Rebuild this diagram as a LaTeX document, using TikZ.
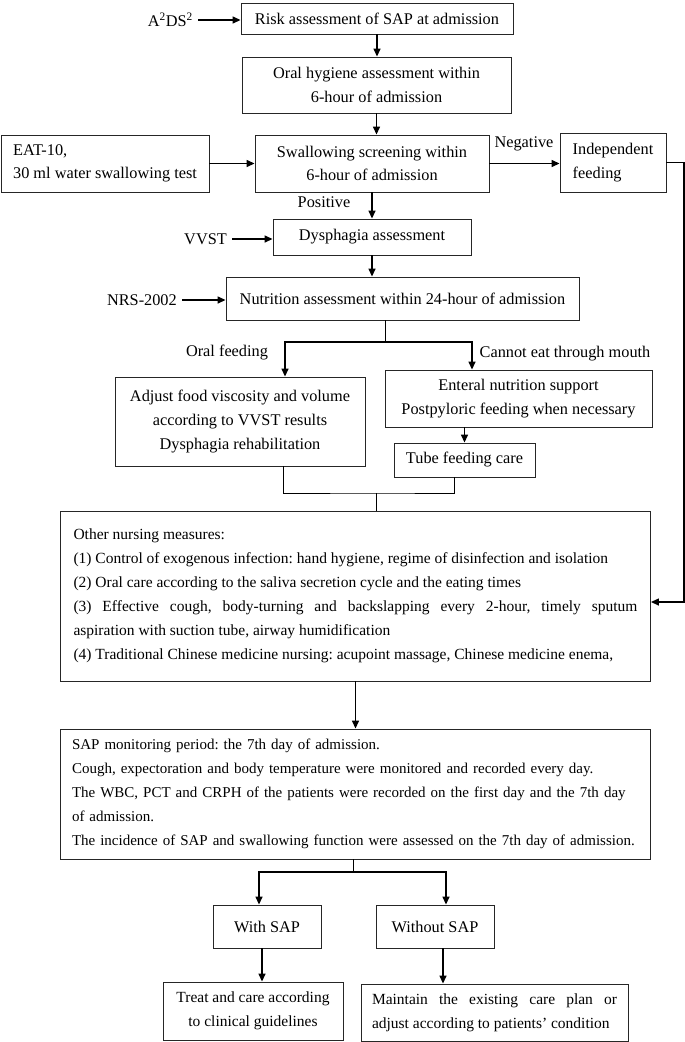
\documentclass[tikz,border=0pt]{standalone}
\usepackage{fontspec}
\setmainfont{Liberation Serif}
\usetikzlibrary{arrows.meta}
\hyphenpenalty=10000
\frenchspacing

\begin{document}
\begin{tikzpicture}[x=1pt,y=-1pt,
	font=\fontsize{16.3}{23.5}\selectfont,
	box/.style={draw=black!85,line width=0.9pt,inner sep=0pt,align=center},
	small/.style={font=\fontsize{15.5}{24}\selectfont},
	lbl/.style={inner sep=5pt},
	arr/.style={line width=1.4pt,-{Triangle[length=8pt,width=7pt]}},
	lne/.style={line width=0.9pt}]
	
	\useasboundingbox (0,0) rectangle (685,1042);
	
	% upper part
	\node[box,minimum width=272pt,minimum height=31pt] (risk) at (377,18.5) {Risk assessment of SAP at admission};
	\node[box,minimum width=269pt,minimum height=56pt] (oral) at (376.5,85) {Oral hygiene assessment within\\6-hour of admission};
	\node[box,minimum width=234pt,minimum height=57pt] (swallow) at (372,163.5) {Swallowing screening within\\6-hour of admission};
	\node[box,align=left,inner xsep=11pt,minimum width=208pt,minimum height=57pt] (eat) at (105,163.5) {EAT-10,\\30 ml water swallowing test};
	\node[box,align=left,inner xsep=12pt,minimum width=106pt,minimum height=59pt] (indep) at (613,162.5) {Independent\\feeding};
	\node[box,minimum width=198pt,minimum height=36pt] (dys) at (372,237) {Dysphagia assessment};
	\node[box,minimum width=353pt,minimum height=43pt] (nutr) at (402.5,298.5) {Nutrition assessment within 24-hour of admission};
	
	\node[lbl,anchor=east] (ads) at (198,20) {A\textsuperscript{2}DS\textsuperscript{2}};
	\node[lbl,anchor=east] (vvst) at (232,239) {VVST};
	\node[lbl,anchor=east] (nrs) at (182,300) {NRS-2002};
	\node (pos) at (324,202) {Positive};
	\node (neg) at (524,144) {Negative};
	
	% feeding
	\node[box,minimum width=250pt,minimum height=89pt,font=\fontsize{16.3}{24}\selectfont] (adjust) at (240,421.5) {Adjust food viscosity and volume\\according to VVST results\\Dysphagia rehabilitation};
	\node[box,minimum width=267pt,minimum height=57pt] (enteral) at (518.5,398.5) {Enteral nutrition support\\Postpyloric feeding when necessary};
	\node[box,minimum width=141pt,minimum height=34pt] (tube) at (464.5,460) {Tube feeding care};
	\node (oralf) at (227,353) {Oral feeding};
	\node (cannot) at (565,354) {Cannot eat through mouth};
	
	% nursing and monitoring
	\node[box,small,align=justify,text width=564pt,inner xsep=13pt,minimum height=170pt] (other) at (355.5,596) {Other nursing measures:\\
		(1) Control of exogenous infection: hand hygiene, regime of disinfection and isolation\\
		(2) Oral care according to the saliva secretion cycle and the eating times\\
		(3) Effective cough, body-turning and backslapping every 2-hour, timely sputum\linebreak aspiration with suction tube, airway humidification\\
		(4) Traditional Chinese medicine nursing: acupoint massage, Chinese medicine enema,};
	\node[box,align=left,text width=566pt,inner xsep=12pt,minimum height=130pt,font=\fontsize{15}{24}\selectfont] (sap) at (355,794) {SAP monitoring period: the 7th day of admission.\\
		Cough, expectoration and body temperature were monitored and recorded every day.\\
		The WBC, PCT and CRPH of the patients were recorded on the first day and the 7th day\\
		of admission.\\
		The incidence of SAP and swallowing function were assessed on the 7th day of admission.};
	
	% outcome
	\node[box,minimum width=108pt,minimum height=43pt] (with) at (267,926.5) {With SAP};
	\node[box,minimum width=118pt,minimum height=43pt] (without) at (435,926.5) {Without SAP};
	\node[box,small,minimum width=180pt,minimum height=58pt] (treat) at (253,1011) {Treat and care according\\to clinical guidelines};
	\node[box,small,align=justify,text width=245pt,inner xsep=11pt,minimum height=57pt] (maintain) at (494.5,1012.5) {Maintain the existing care plan or\linebreak adjust according to patients' condition};
	
	% connectors
	\draw[arr] (ads.east) -- (ads.east -| risk.west);
	\draw[arr] (risk.south) -- (risk.south |- oral.north);
	\draw[arr] (oral.south) -- (oral.south |- swallow.north);
	\draw[arr] (eat.east) -- (swallow.west);
	\draw[arr] (swallow.east) -- (swallow.east -| indep.west);
	\draw[arr] (swallow.south) -- (swallow.south |- dys.north);
	\draw[arr] (vvst.east) -- (vvst.east -| dys.west);
	\draw[arr] (dys.south) -- (dys.south |- nutr.north);
	\draw[arr] (nrs.east) -- (nrs.east -| nutr.west);
	
	\coordinate (split) at (385,342);
	\coordinate (oralTop) at (285,342);
	\coordinate (tubeTop) at (472,342);
	\draw[lne] (split |- nutr.south) -- (split);
	\draw[arr] (split) -- (oralTop) -- (oralTop |- adjust.north);
	\draw[arr] (split) -- (tubeTop) -- (tubeTop |- enteral.north);
	\draw[arr] (tube.north |- enteral.south) -- (tube.north);
	
	\coordinate (merge) at (376,493);
	\draw[lne] ([xshift=43pt]adjust.south) |- (merge) -| ([xshift=-10pt]tube.south);
	\draw[lne] (merge) -- (merge |- other.north);
	
	\coordinate (fb) at (684,155);
	\draw[arr] (indep.east) -- (indep.east -| fb) |- ([yshift=-6pt]other.east);
	\draw[arr] (other.south) -- (other.south |- sap.north);
	
	\coordinate (split2) at (353,872);
	\coordinate (withTop) at (259,872);
	\coordinate (woTop) at (446,872);
	\draw[lne] (split2 |- sap.south) -- (split2);
	\draw[arr] (split2) -- (withTop) -- (withTop |- with.north);
	\draw[arr] (split2) -- (woTop) -- (woTop |- without.north);
	\draw[arr] ([xshift=-5pt]with.south) -- ([xshift=-5pt]with.south |- treat.north);
	\draw[arr] ([xshift=8pt]without.south) -- ([xshift=8pt]without.south |- maintain.north);
	
\end{tikzpicture}
\end{document}
